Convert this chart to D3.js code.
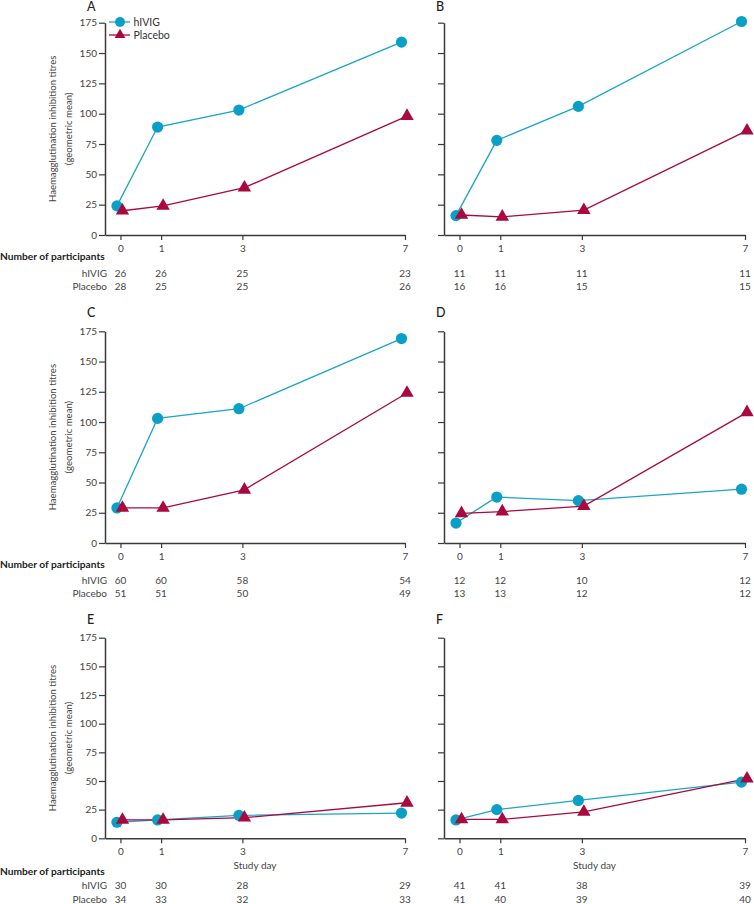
<!DOCTYPE html>
<html>
<head>
<meta charset="utf-8">
<script src="https://cdn.jsdelivr.net/npm/d3@7"></script>
<style>
  html, body { margin: 0; padding: 0; background: #fff; }
  svg { display: block; }
  text { font-family: Lato, "Open Sans", sans-serif; fill: #333; }
</style>
</head>
<body>
<svg id="chart" width="754" height="904"></svg>
<script>
// ---------------- data ----------------
const days = [0, 1, 3, 7];
const yTicks = [0, 25, 50, 75, 100, 125, 150, 175];
const panelLabels = ["A", "B", "C", "D", "E", "F"];
const seriesNames = ["hIVIG", "Placebo"];

const hivigA = [24, 89, 103, 159];
const placeboA = [20, 24, 39, 98];
const hivigB = [16, 78, 106, 176];
const placeboB = [16.5, 15, 20.5, 86];
const hivigC = [29, 103, 111, 169];
const placeboC = [29, 29, 44, 124];
const hivigD = [16.5, 38, 35, 44.5];
const placeboD = [24.5, 26, 30.5, 108];
const hivigE = [14, 16, 20, 22];
const placeboE = [16, 16, 18, 31];
const hivigF = [16, 25, 33, 49];
const placeboF = [16.5, 16.5, 23, 52];

const nHivigA = [26, 26, 25, 23], nPlaceboA = [28, 25, 25, 26];
const nHivigB = [11, 11, 11, 11], nPlaceboB = [16, 16, 15, 15];
const nHivigC = [60, 60, 58, 54], nPlaceboC = [51, 51, 50, 49];
const nHivigD = [12, 12, 10, 12], nPlaceboD = [13, 13, 12, 12];
const nHivigE = [30, 30, 28, 29], nPlaceboE = [34, 33, 32, 33];
const nHivigF = [41, 41, 38, 39], nPlaceboF = [41, 40, 39, 40];

const hivigAll = [hivigA, hivigB, hivigC, hivigD, hivigE, hivigF];
const placeboAll = [placeboA, placeboB, placeboC, placeboD, placeboE, placeboF];
const nHivigAll = [nHivigA, nHivigB, nHivigC, nHivigD, nHivigE, nHivigF];
const nPlaceboAll = [nPlaceboA, nPlaceboB, nPlaceboC, nPlaceboD, nPlaceboE, nPlaceboF];

// ---------------- layout ----------------
const rows = [
  { top: 22.7, bottom: 235, label: 10.5, tick: 17, nop: 24.8, r1: 41.5, r2: 55, study: null },
  { top: 331.3, bottom: 543, label: 316.5, tick: 16.5, nop: 24.5, r1: 40.5, r2: 54, study: null },
  { top: 637.7, bottom: 838.3, label: 624, tick: 16.7, nop: 36.8, r1: 51, r2: 64.5, study: 30.7 }
];
const cols = [
  { x0: 105, x1: 405, labelX: 87 },
  { x0: 444, x1: 745, labelX: 436 }
];
const colBlue = "#0a9fc5";
const colBlueLine = "#1aa5c9";
const colRed = "#a9093d";
const axisCol = "#3a3a3a";
const dodgeC = -3.5, dodgeT = 2;

const svg = d3.select("#chart");

panelLabels.forEach((lab, i) => {
  const row = rows[Math.floor(i / 2)];
  const col = cols[i % 2];
  const g = svg.append("g");

  const x = d3.scaleLinear().domain([-0.38, 7]).range([col.x0, col.x1]);
  const y = d3.scaleLinear().domain([0, 175]).range([row.bottom, row.top]);

  // panel letter
  g.append("text").attr("x", col.labelX).attr("y", row.label)
    .style("font-size", "12.5px").style("font-weight", "500").style("fill", "#222")
    .text(lab);

  // y axis
  const ya = d3.axisLeft(y).tickValues(yTicks).tickSize(6).tickSizeOuter(0).tickPadding(2)
    .tickFormat(i % 2 === 0 ? d3.format("d") : () => "");
  const yg = g.append("g").attr("transform", `translate(${col.x0},0)`).call(ya);
  // x axis
  const xa = d3.axisBottom(x).tickValues(days).tickSize(5).tickSizeOuter(0).tickPadding(5)
    .tickFormat(d3.format("d"));
  const xg = g.append("g").attr("transform", `translate(0,${row.bottom})`).call(xa);
  [yg, xg].forEach(ax => {
    ax.select(".domain").attr("stroke", axisCol).attr("stroke-width", 1.5);
    ax.selectAll(".tick line").attr("stroke", axisCol).attr("stroke-width", 1.2);
    ax.selectAll(".tick text").style("font-size", "10px").style("fill", "#444")
      .style("font-family", "Lato, 'Open Sans', sans-serif");
  });

  // y title
  if (i % 2 === 0) {
    const cy = (row.top + row.bottom) / 2;
    g.append("text").attr("transform", `translate(55.5,${cy}) rotate(-90)`)
      .attr("text-anchor", "middle").style("font-size", "9.6px").style("fill", "#444")
      .text("Haemagglutination inhibition titres");
    g.append("text").attr("transform", `translate(71.5,${cy}) rotate(-90)`)
      .attr("text-anchor", "middle").style("font-size", "9.6px").style("fill", "#444")
      .text("(geometric mean)");
  }

  // series
  const hv = hivigAll[i], pl = placeboAll[i];
  const lineC = d3.line().x((d, k) => x(days[k]) + dodgeC).y(d => y(d));
  const lineT = d3.line().x((d, k) => x(days[k]) + dodgeT).y(d => y(d));
  g.append("path").datum(hv).attr("d", lineC).attr("fill", "none")
    .attr("stroke", colBlueLine).attr("stroke-width", 1.3);
  g.append("path").datum(pl).attr("d", lineT).attr("fill", "none")
    .attr("stroke", colRed).attr("stroke-width", 1.3);
  g.selectAll(".circ").data(hv).enter().append("circle")
    .attr("cx", (d, k) => x(days[k]) + dodgeC).attr("cy", d => y(d)).attr("r", 5.6)
    .attr("fill", colBlue);
  const tri = d3.symbol().type(d3.symbolTriangle).size(78);
  g.selectAll(".tri").data(pl).enter().append("path")
    .attr("d", tri)
    .attr("transform", (d, k) => `translate(${x(days[k]) + dodgeT},${y(d)})`)
    .attr("fill", colRed);

  // study day
  if (row.study !== null) {
    g.append("text").attr("x", (col.x0 + col.x1) / 2).attr("y", row.bottom + row.study)
      .attr("text-anchor", "middle").style("font-size", "10px").style("fill", "#444")
      .text("Study day");
  }

  // participants table
  if (i % 2 === 0) {
    g.append("text").attr("x", 0).attr("y", row.bottom + row.nop)
      .style("font-size", "10.2px").style("font-weight", "700").style("fill", "#222")
      .text("Number of participants");
    g.append("text").attr("x", 107).attr("y", row.bottom + row.r1).attr("text-anchor", "end")
      .style("font-size", "10px").style("fill", "#444").text(seriesNames[0]);
    g.append("text").attr("x", 107).attr("y", row.bottom + row.r2).attr("text-anchor", "end")
      .style("font-size", "10px").style("fill", "#444").text(seriesNames[1]);
  }
  g.selectAll(".n1").data(nHivigAll[i]).enter().append("text")
    .attr("x", (d, k) => x(days[k])).attr("y", row.bottom + row.r1)
    .attr("text-anchor", "middle").style("font-size", "10px").style("fill", "#444")
    .text(d => d);
  g.selectAll(".n2").data(nPlaceboAll[i]).enter().append("text")
    .attr("x", (d, k) => x(days[k])).attr("y", row.bottom + row.r2)
    .attr("text-anchor", "middle").style("font-size", "10px").style("fill", "#444")
    .text(d => d);

  // legend (panel A only)
  if (i === 0) {
    const lg = g.append("g");
    const items = [{ name: seriesNames[0], c: colBlue, lc: colBlueLine, s: "c", yy: 22 },
                   { name: seriesNames[1], c: colRed, lc: colRed, s: "t", yy: 35 }];
    items.forEach(it => {
      lg.append("line").attr("x1", 109).attr("x2", 130).attr("y1", it.yy).attr("y2", it.yy)
        .attr("stroke", it.lc).attr("stroke-width", 1.3);
      if (it.s === "c") {
        lg.append("circle").attr("cx", 120).attr("cy", it.yy).attr("r", 5).attr("fill", it.c);
      } else {
        lg.append("path").attr("d", d3.symbol().type(d3.symbolTriangle).size(50))
          .attr("transform", `translate(120,${it.yy})`).attr("fill", it.c);
      }
      lg.append("text").attr("x", 133.5).attr("y", it.yy + 3.6)
        .style("font-size", "10.5px").style("fill", "#333").text(it.name);
    });
  }
});
</script>
</body>
</html>
